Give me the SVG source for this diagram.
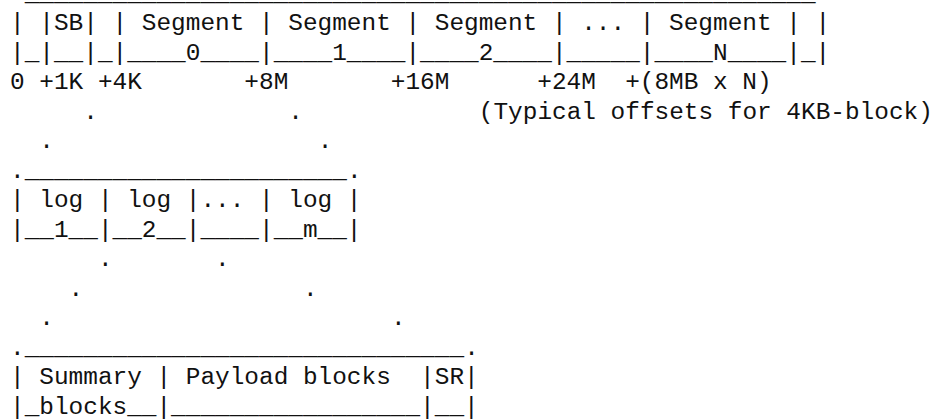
<svg xmlns="http://www.w3.org/2000/svg" width="934" height="419" viewBox="0 0 934 419" xml:space="preserve">
<style>
text { font-family: "Liberation Mono", "Courier New", monospace; font-size: 24.41px; fill: #111; white-space: pre; }
</style>
<rect x="0" y="0" width="934" height="419" fill="#ffffff"/>
<g id="segments-bar">
<text x="24.65" y="0.5">______________________________________________________</text>
<text x="10" y="30">| |SB| | Segment | Segment | Segment | ... | Segment | |</text>
<text x="10" y="59.5">|_|__|_|____0____|____1____|____2____|_____|____N____|_|</text>
</g>
<g id="offsets">
<text x="10" y="89">0 +1K +4K       +8M       +16M      +24M  +(8MB x N)</text>
<text x="478.8" y="118.5">(Typical offsets for 4KB-block)</text>
</g>
<g id="log-bar">
<text x="24.65" y="177.5">______________________</text>
<text x="10" y="207">| log | log |... | log |</text>
<text x="10" y="236.5">|__1__|__2__|____|__m__|</text>
</g>
<g id="log-detail-bar">
<text x="24.65" y="354.5">______________________________</text>
<text x="10" y="384">| Summary | Payload blocks  |SR|</text>
<text x="10" y="413.5">|_blocks__|_________________|__|</text>
</g>
<g id="connectors">
<text x="83.25" y="118.5">.</text>
<text x="288.35" y="118.5">.</text>
<text x="39.3" y="148">.</text>
<text x="317.65" y="148">.</text>
<text x="10" y="177.5">.</text>
<text x="346.95" y="177.5">.</text>
<text x="97.9" y="266">.</text>
<text x="215.1" y="266">.</text>
<text x="68.6" y="295.5">.</text>
<text x="303" y="295.5">.</text>
<text x="39.3" y="325">.</text>
<text x="390.9" y="325">.</text>
<text x="10" y="354.5">.</text>
<text x="464.15" y="354.5">.</text>
</g>
</svg>
